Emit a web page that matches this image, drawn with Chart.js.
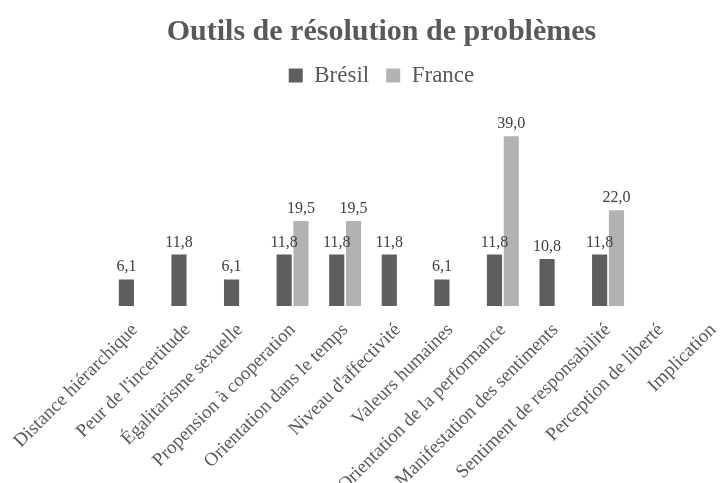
<!DOCTYPE html>
<html>
<head>
<meta charset="utf-8">
<script src="https://cdn.jsdelivr.net/npm/chart.js@4/dist/chart.umd.min.js"></script>
<style>
  html, body { margin: 0; padding: 0; background: #fff; overflow: hidden; width: 722px; height: 483px; }
  #wrap { position: absolute; left: 0; top: 0; width: 763px; height: 483px; }
</style>
</head>
<body>
<div id="wrap"><canvas id="c" width="763" height="483"></canvas></div>
<script>
const categories = [
  "Distance hiérarchique",
  "Peur de l'incertitude",
  "Égalitarisme sexuelle",
  "Propension à cooperation",
  "Orientation dans le temps",
  "Niveau d'affectivité",
  "Valeurs humaines",
  "Orientation de la performance",
  "Manifestation des sentiments",
  "Sentiment de responsabilité",
  "Perception de liberté",
  "Implication"
];
const bresil = [6.1, 11.8, 6.1, 11.8, 11.8, 11.8, 6.1, 11.8, 10.8, 11.8, null, null];
const france = [null, null, null, 19.5, 19.5, null, null, 39.0, null, 22.0, null, null];
const seriesNames = ["Brésil", "France"];
const titleText = "Outils de résolution de problèmes";

const serif = "'Liberation Serif', 'Times New Roman', serif";

const valueLabels = {
  id: 'valueLabels',
  afterDatasetsDraw(chart) {
    const ctx = chart.ctx;
    ctx.save();
    ctx.font = "16px " + serif;
    ctx.fillStyle = "#404040";
    ctx.textAlign = "center";
    ctx.textBaseline = "alphabetic";
    chart.data.datasets.forEach((ds, di) => {
      const meta = chart.getDatasetMeta(di);
      meta.data.forEach((bar, i) => {
        const v = ds.data[i];
        if (v === null || v === undefined) return;
        ctx.fillText(v.toFixed(1).replace('.', ','), bar.x, bar.y - 8);
      });
    });
    ctx.restore();
  }
};

new Chart(document.getElementById('c'), {
  type: 'bar',
  data: {
    labels: categories,
    datasets: [
      { label: seriesNames[0], data: bresil, backgroundColor: '#5e5e5e', categoryPercentage: 0.64, barPercentage: 0.9 },
      { label: seriesNames[1], data: france, backgroundColor: '#b2b2b2', categoryPercentage: 0.64, barPercentage: 0.9 }
    ]
  },
  options: {
    responsive: false,
    animation: false,
    events: [],
    layout: { padding: 0 },
    plugins: {
      title: {
        display: true,
        text: titleText,
        color: '#595959',
        font: { family: serif, size: 30, weight: 'bold', lineHeight: 1.0 },
        padding: { top: 17, bottom: 0 }
      },
      legend: {
        display: true,
        position: 'top',
        labels: {
          color: '#595959',
          font: { family: serif, size: 23 },
          boxWidth: 14,
          boxHeight: 14,
          padding: 17
        }
      },
      tooltip: { enabled: false }
    },
    scales: {
      x: {
        grid: { display: false, drawTicks: false },
        border: { display: false },
        ticks: {
          color: '#595959',
          font: { family: serif, size: 19 },
          minRotation: 45,
          maxRotation: 45,
          autoSkip: false,
          padding: 13
        },
        afterFit(scale) { scale.height = 177; }
      },
      y: {
        display: true,
        position: 'left',
        min: 0,
        max: 48,
        grid: { display: false },
        border: { display: false },
        ticks: { display: false },
        afterFit(scale) { scale.width = 103.5; }
      },
      y2: {
        type: 'linear',
        display: true,
        position: 'right',
        min: 0,
        max: 48,
        grid: { display: false },
        border: { display: false },
        ticks: { display: false },
        afterFit(scale) { scale.width = 23.5; }
      }
    }
  },
  plugins: [valueLabels]
});
</script>
</body>
</html>
